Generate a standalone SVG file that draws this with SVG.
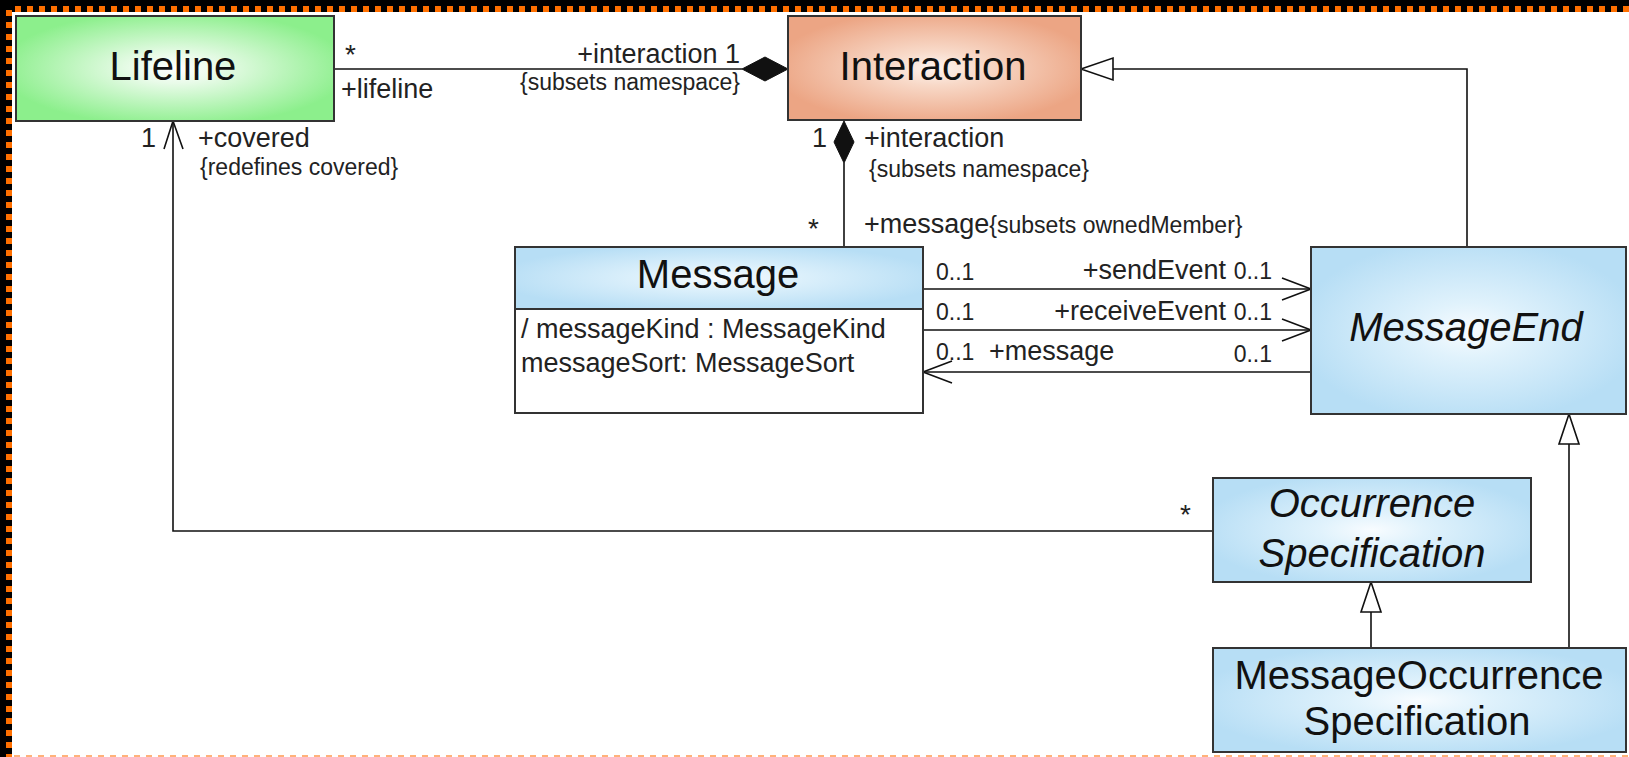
<svg xmlns="http://www.w3.org/2000/svg" width="1629" height="757" viewBox="0 0 1629 757">
<defs>
<radialGradient id="gGreen" cx="50%" cy="50%" r="55%"><stop offset="0" stop-color="#ffffff"/><stop offset="0.25" stop-color="#e9fbe9"/><stop offset="1" stop-color="#8cef8c"/></radialGradient>
<radialGradient id="gPeach" cx="50%" cy="50%" r="55%"><stop offset="0" stop-color="#fdf4ef"/><stop offset="0.3" stop-color="#f8d9c8"/><stop offset="1" stop-color="#eca584"/></radialGradient>
<radialGradient id="gBlue" cx="50%" cy="50%" r="55%"><stop offset="0" stop-color="#f8fcff"/><stop offset="0.3" stop-color="#e0f2fc"/><stop offset="1" stop-color="#b7def5"/></radialGradient>
<style>
.box{stroke:#333;stroke-width:2}
.name{font-family:"Liberation Sans",Arial,sans-serif;font-size:40px;fill:#111;text-anchor:middle}
.it{font-style:italic}
.attr{font-family:"Liberation Sans",Arial,sans-serif;font-size:27px;fill:#222}
.role{font-family:"Liberation Sans",Arial,sans-serif;font-size:27px;fill:#222}
.mult{font-family:"Liberation Sans",Arial,sans-serif;font-size:23px;fill:#222}
.star{font-family:"Liberation Sans",Arial,sans-serif;font-size:28px;fill:#222}
.con{font-family:"Liberation Sans",Arial,sans-serif;font-size:23px;fill:#222}
.ln{stroke:#111;stroke-width:1.6;fill:none}
.dia{fill:#111;stroke:#111;stroke-width:1}
.tri{fill:#fff;stroke:#111;stroke-width:1.6}
</style>
</defs>
<g id="frame">
<rect x="0" y="0" width="1629" height="757" fill="#000"/>
<rect x="12" y="12" width="1617" height="745" fill="#fff"/>
<line x1="15" y1="9" x2="1629" y2="9" stroke="#ff7000" stroke-width="6" stroke-dasharray="6 6"/>
<line x1="9" y1="10" x2="9" y2="757" stroke="#ff7000" stroke-width="6" stroke-dasharray="6 6"/>
<line x1="14" y1="756" x2="1629" y2="756" stroke="#ffb27a" stroke-width="2" stroke-dasharray="6 6"/>
</g>
<g id="connectors">
<line class="ln" x1="334" y1="69" x2="742" y2="69"/>
<polygon class="dia" points="742,69 765,57 788,69 765,81"/>
<polygon class="dia" points="844,121 854,142 844,163 834,142"/>
<line class="ln" x1="844" y1="163" x2="844" y2="247"/>
<polyline class="ln" points="1467,247 1467,69 1113,69"/>
<polygon class="tri" points="1081,69 1113,58 1113,80"/>
<line class="ln" x1="923" y1="289" x2="1311" y2="289"/>
<polyline class="ln" points="1282,278 1311,289 1282,300"/>
<line class="ln" x1="923" y1="330" x2="1311" y2="330"/>
<polyline class="ln" points="1282,319 1311,330 1282,341"/>
<line class="ln" x1="1311" y1="372" x2="923" y2="372"/>
<polyline class="ln" points="952,361 923,372 952,383"/>
<polyline class="ln" points="1213,531 173,531 173,121"/>
<polyline class="ln" points="164,149 173,121 183,149"/>
<line class="ln" x1="1371" y1="648" x2="1371" y2="612"/>
<polygon class="tri" points="1371,582 1361,612 1381,612"/>
<line class="ln" x1="1569" y1="648" x2="1569" y2="444"/>
<polygon class="tri" points="1569,414 1559,444 1579,444"/>
<text class="star" x="345" y="64">*</text>
<text class="role" x="341" y="98">+lifeline</text>
<text class="role" x="740" y="63" text-anchor="end">+interaction 1</text>
<text class="con" x="740" y="90" text-anchor="end">{subsets namespace}</text>
<text class="role" x="141" y="147">1</text>
<text class="role" x="198" y="147">+covered</text>
<text class="con" x="200" y="175">{redefines covered}</text>
<text class="role" x="812" y="147">1</text>
<text class="role" x="864" y="147">+interaction</text>
<text class="con" x="869" y="177">{subsets namespace}</text>
<text class="star" x="808" y="238">*</text>
<text class="role" x="864" y="233" font-size="28">+message<tspan class="con">{subsets ownedMember}</tspan></text>
<text class="mult" x="936" y="280">0..1</text>
<text class="role" x="1272" y="279" text-anchor="end">+sendEvent <tspan font-size="23">0..1</tspan></text>
<text class="mult" x="936" y="320">0..1</text>
<text class="role" x="1272" y="320" text-anchor="end">+receiveEvent <tspan font-size="23">0..1</tspan></text>
<text class="mult" x="936" y="360">0..1</text>
<text class="role" x="989" y="360">+message</text>
<text class="mult" x="1272" y="362" text-anchor="end">0..1</text>
<text class="star" x="1180" y="524">*</text>
</g>
<g id="Lifeline">
<rect class="box" x="16" y="16" width="318" height="105" fill="url(#gGreen)"/>
<text class="name" x="173" y="80" font-size="39">Lifeline</text>
</g>
<g id="Interaction">
<rect class="box" x="788" y="16" width="293" height="104" fill="url(#gPeach)"/>
<text class="name" x="933" y="80">Interaction</text>
</g>
<g id="Message">
<rect class="box" x="515" y="247" width="408" height="166" fill="#fff"/>
<rect class="box" x="515" y="247" width="408" height="62" fill="url(#gBlue)"/>
<text class="name" x="718" y="288">Message</text>
<text class="attr" x="521" y="338">/ messageKind : MessageKind</text>
<text class="attr" x="521" y="372">messageSort: MessageSort</text>
</g>
<g id="MessageEnd">
<rect class="box" x="1311" y="247" width="315" height="167" fill="url(#gBlue)"/>
<text class="name it" x="1466" y="341">MessageEnd</text>
</g>
<g id="OccurrenceSpecification">
<rect class="box" x="1213" y="478" width="318" height="104" fill="url(#gBlue)"/>
<text class="name it" x="1372" y="517">Occurrence</text>
<text class="name it" x="1372" y="567">Specification</text>
</g>
<g id="MessageOccurrenceSpecification">
<rect class="box" x="1213" y="648" width="413" height="104" fill="url(#gBlue)"/>
<text class="name" x="1419" y="689">MessageOccurrence</text>
<text class="name" x="1417" y="735">Specification</text>
</g>
</svg>
